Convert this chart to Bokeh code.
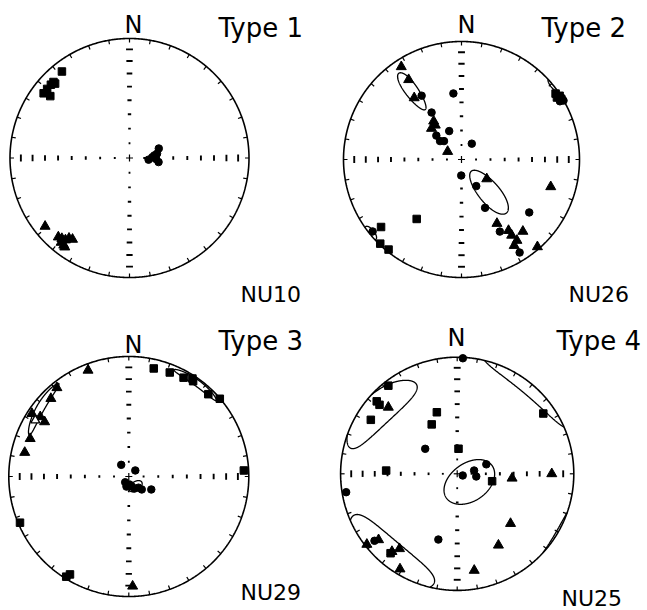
import numpy as np
from bokeh.plotting import figure
from bokeh.models import Range1d
from bokeh.embed import file_html
from bokeh.resources import INLINE
from bokeh.core.properties import value

# Principal AMS axes per site: declination / inclination in degrees (lower hemisphere).
# kmax = squares, kint = triangles, kmin = circles.

# NU10 (Type 1)
nu10_kmax_dec = [322, 315, 313, 310, 307, 308, 315]
nu10_kmax_inc = [9, 11, 11, 11, 11, 17, 13]
nu10_kint_dec = [231, 222, 220, 218, 217, 215, 217, 216, 219]
nu10_kint_inc = [10, 12, 13, 14, 17, 18, 9.5, 8.7, 10]
nu10_kmin_dec = [72, 81, 84, 88, 95, 98, 92]
nu10_kmin_inc = [69, 71, 73, 74.5, 77, 70, 72]

# NU26 (Type 2)
nu26_kmax_dec = [55, 57, 57, 217, 230, 224, 219]
nu26_kmax_inc = [3, 4, 1, 37, 12, 1, 2]
nu26_kint_dec = [327, 326.5, 322.5, 324, 316, 322.6, 300, 127.5, 107, 151, 146.5, 139.5, 146.5, 145.6, 148.5, 139]
nu26_kint_inc = [7, 20, 34.5, 57, 60, 60, 79, 68, 22, 38, 28.6, 21, 24, 18, 15.6, 2.2]
nu26_kmin_dec = [328, 353, 327.5, 336.6, 313.5, 310.6, 316.5, 33, 181, 151, 154, 128, 152, 148, 231, 58.4, 59.4, 60]
nu26_kmin_inc = [36.4, 43, 51, 68.6, 66, 70.5, 72.5, 77, 79, 69, 52.4, 28, 31.4, 7.8, 3.5, 0.2, 3.5, 0.2]

# NU29 (Type 3)
nu29_kmax_dec = [13, 21.5, 29, 33, 34, 44, 49.5, 87, 247, 212, 211]
nu29_kmax_inc = [8.4, 7.6, 6.5, 3, 4.7, 5.2, 0.3, 4.5, 1.7, 1.8, 5.4]
nu29_kint_dec = [339, 321, 315, 303, 303, 304, 291, 283, 178]
nu29_kint_inc = [5.8, 5.4, 9, 4.2, 17.5, 12, 13, 12, 9.4]
nu29_kint_up_dec = [301]
nu29_kint_up_inc = [10]
nu29_kmin_dec = [327, 47, 212, 175, 163, 155, 139, 135, 120, 193]
nu29_kmin_inc = [80.6, 84, 85.4, 84.6, 83, 81, 80, 77.6, 72.4, 83]

# NU25 (Type 4)
nu25_kmax_dec = [322, 312, 311.6, 302, 341.7, 332.7, 3, 272.6, 102, 55, 220]
nu25_kmax_inc = [4.6, 7.9, 11.9, 13.7, 43.7, 50.6, 72.5, 38.9, 65, 10.8, 12.1]
nu25_kint_dec = [314, 94.6, 90, 133, 150, 170, 232, 230, 220, 217.6, 211]
nu25_kint_inc = [19, 51, 20, 37.5, 30, 17, 1.9, 13, 14, 20, 5.3]
nu25_kmin_dec = [2.8, 308, 260.6, 107, 79, 98, 72, 196, 231]
nu25_kmin_inc = [0.9, 61.5, 3.9, 86, 78, 76.6, 68.6, 41, 9.6]

# Confidence cones: mean dec, mean inc, semi-angle a, semi-angle b, rotation of a from down-dip (deg)
nu10_cones = []
nu26_cones = [(324, 28.6, 18, 3.8, 0), (140, 60, 19.5, 7, 0), (231, 1, 4, 3.5, 90)]
nu29_cones = [(36, 4, 13, 2.9, 90), (308, 7.5, 15.5, 3.5, 75), (145, 82, 5, 3, 90)]
nu25_cones = [(124, 79.6, 19.5, 13.2, -69), (309, 13, 26, 13.5, 105), (220, 6, 28, 17, 90)]

sites = ["NU10", "NU26", "NU29", "NU25"]
types = ["Type 1", "Type 2", "Type 3", "Type 4"]
tick_incs = [80, 70, 60, 50, 40, 30, 20, 10]

# net placement on the page (pixels): centre, radius, label anchors
layout = [
    dict(cx=129.0, cy=157.5, R=119.5, n=(133, 24), t=(218, 27), s=(240, 294)),
    dict(cx=461.0, cy=159.0, R=118.0, n=(466, 24), t=(541, 27), s=(568, 294)),
    dict(cx=128.3, cy=476.0, R=120.0, n=(133, 344), t=(218, 340), s=(240, 592)),
    dict(cx=456.7, cy=473.3, R=116.6, n=(456, 337), t=(556, 340), s=(561, 598)),
]

data = [
    (nu10_kmax_dec, nu10_kmax_inc, nu10_kint_dec, nu10_kint_inc, [], [], nu10_kmin_dec, nu10_kmin_inc, nu10_cones),
    (nu26_kmax_dec, nu26_kmax_inc, nu26_kint_dec, nu26_kint_inc, [], [], nu26_kmin_dec, nu26_kmin_inc, nu26_cones),
    (nu29_kmax_dec, nu29_kmax_inc, nu29_kint_dec, nu29_kint_inc, nu29_kint_up_dec, nu29_kint_up_inc,
     nu29_kmin_dec, nu29_kmin_inc, nu29_cones),
    (nu25_kmax_dec, nu25_kmax_inc, nu25_kint_dec, nu25_kint_inc, [], [], nu25_kmin_dec, nu25_kmin_inc, nu25_cones),
]


def equal_area(dec, inc):
    """Lower-hemisphere equal-area (Schmidt) projection onto the unit net."""
    dec = np.radians(np.asarray(dec, float))
    inc = np.asarray(inc, float)
    dec = np.where(inc < 0, dec + np.pi, dec)
    inc = np.abs(inc)
    r = np.sqrt(2) * np.sin(np.radians(90 - inc) / 2)
    return r * np.sin(dec), r * np.cos(dec)


def cone(dec, inc, a, b, rot, n=720):
    """Elliptical cone about a mean axis, projected; axial so upper parts wrap to the antipode."""
    D, I = np.radians(dec), np.radians(inc)
    m = np.array([np.cos(I) * np.cos(D), np.cos(I) * np.sin(D), np.sin(I)])
    rad = np.array([np.sin(I) * np.cos(D), np.sin(I) * np.sin(D), -np.cos(I)])
    tng = np.array([-np.sin(D), np.cos(D), 0.0])
    g = np.radians(rot)
    e1 = np.cos(g) * rad + np.sin(g) * tng
    e2 = -np.sin(g) * rad + np.cos(g) * tng
    t = np.linspace(0, 2 * np.pi, n)
    v = (m[:, None] + np.tan(np.radians(a)) * np.cos(t) * e1[:, None]
         + np.tan(np.radians(b)) * np.sin(t) * e2[:, None])
    v /= np.linalg.norm(v, axis=0)
    flip = v[2] < 0
    v[:, flip] *= -1
    theta = np.arccos(np.clip(v[2], -1, 1))
    r = np.sqrt(2) * np.sin(theta / 2)
    az = np.arctan2(v[1], v[0])
    x, y = r * np.sin(az), r * np.cos(az)
    segs, start = [], 0
    for i in range(1, n):
        if flip[i] != flip[i - 1]:
            segs.append((x[start:i], y[start:i]))
            start = i
    segs.append((x[start:], y[start:]))
    if len(segs) > 1 and flip[0] == flip[-1]:
        first = segs.pop(0)
        segs[-1] = (np.concatenate([segs[-1][0], first[0]]), np.concatenate([segs[-1][1], first[1]]))
    return segs


p = figure(width=647, height=610, x_range=Range1d(0, 647), y_range=Range1d(610, 0),
           output_backend="svg", toolbar_location=None, min_border=0,
           x_axis_location=None, y_axis_location=None)
p.grid.visible = False
p.outline_line_color = None
p.background_fill_color = "white"

font = value("DejaVu Sans")

for k, L in enumerate(layout):
    cx, cy, R = L["cx"], L["cy"], L["R"]

    def sx(x):
        return cx + R * np.asarray(x)

    def sy(y):
        return cy - R * np.asarray(y)

    # primitive circle
    a = np.linspace(0, 2 * np.pi, 721)
    p.line(sx(np.sin(a)), sy(np.cos(a)), line_color="black", line_width=1.6)

    # azimuth ticks every 10 degrees on the primitive
    az = np.radians(np.arange(0, 360, 10))
    p.segment(x0=sx(np.sin(az)), y0=sy(np.cos(az)),
              x1=sx(np.sin(az) * (1 - 4.0 / R)), y1=sy(np.cos(az) * (1 - 4.0 / R)),
              line_color="black", line_width=1.2)

    # inclination ticks along N-S and E-W diameters
    rt = np.sqrt(2) * np.sin(np.radians(90 - np.array(tick_incs)) / 2)
    half = (1.0 + 6.5 * rt) / 2.0 / R
    for s in (1, -1):
        p.segment(x0=sx(-half), y0=sy(s * rt), x1=sx(half), y1=sy(s * rt),
                  line_color="black", line_width=1.9)
        p.segment(x0=sx(s * rt), y0=sy(-half), x1=sx(s * rt), y1=sy(half),
                  line_color="black", line_width=1.9)
    c = 3.5 / R
    p.segment(x0=sx([-c, 0]), y0=sy([0, -c]), x1=sx([c, 0]), y1=sy([0, c]),
              line_color="black", line_width=1.2)

    kmax_d, kmax_i, kint_d, kint_i, kup_d, kup_i, kmin_d, kmin_i, cones = data[k]

    for cdef in cones:
        for xs, ys in cone(*cdef):
            p.line(sx(xs), sy(ys), line_color="black", line_width=1.3)

    x, y = equal_area(kmax_d, kmax_i)
    p.scatter(sx(x), sy(y), marker="square", size=7.5, color="black")
    x, y = equal_area(kmin_d, kmin_i)
    p.scatter(sx(x), sy(y), marker="circle", size=7.5, color="black")
    x, y = equal_area(kint_d, kint_i)
    p.scatter(sx(x), sy(y), marker="triangle", size=10, color="black")
    if kup_d:
        x, y = equal_area(kup_d, kup_i)
        p.scatter(sx(x), sy(y), marker="triangle", size=9, fill_color="white",
                  line_color="black", line_width=1.3)

    p.text(x=[L["n"][0]], y=[L["n"][1]], text=["N"], text_font=font, text_font_size="24px",
           text_align="center", text_baseline="alphabetic", text_color="black")
    p.text(x=[L["t"][0]], y=[L["t"][1]], text=[types[k]], text_font=font, text_font_size="26px",
           text_align="left", text_baseline="alphabetic", text_color="black")
    p.text(x=[L["s"][0]], y=[L["s"][1]], text=[sites[k]], text_font=font, text_font_size="22px",
           text_align="left", text_baseline="alphabetic", text_color="black")

open("out.html", "w").write(file_html(p, INLINE))
